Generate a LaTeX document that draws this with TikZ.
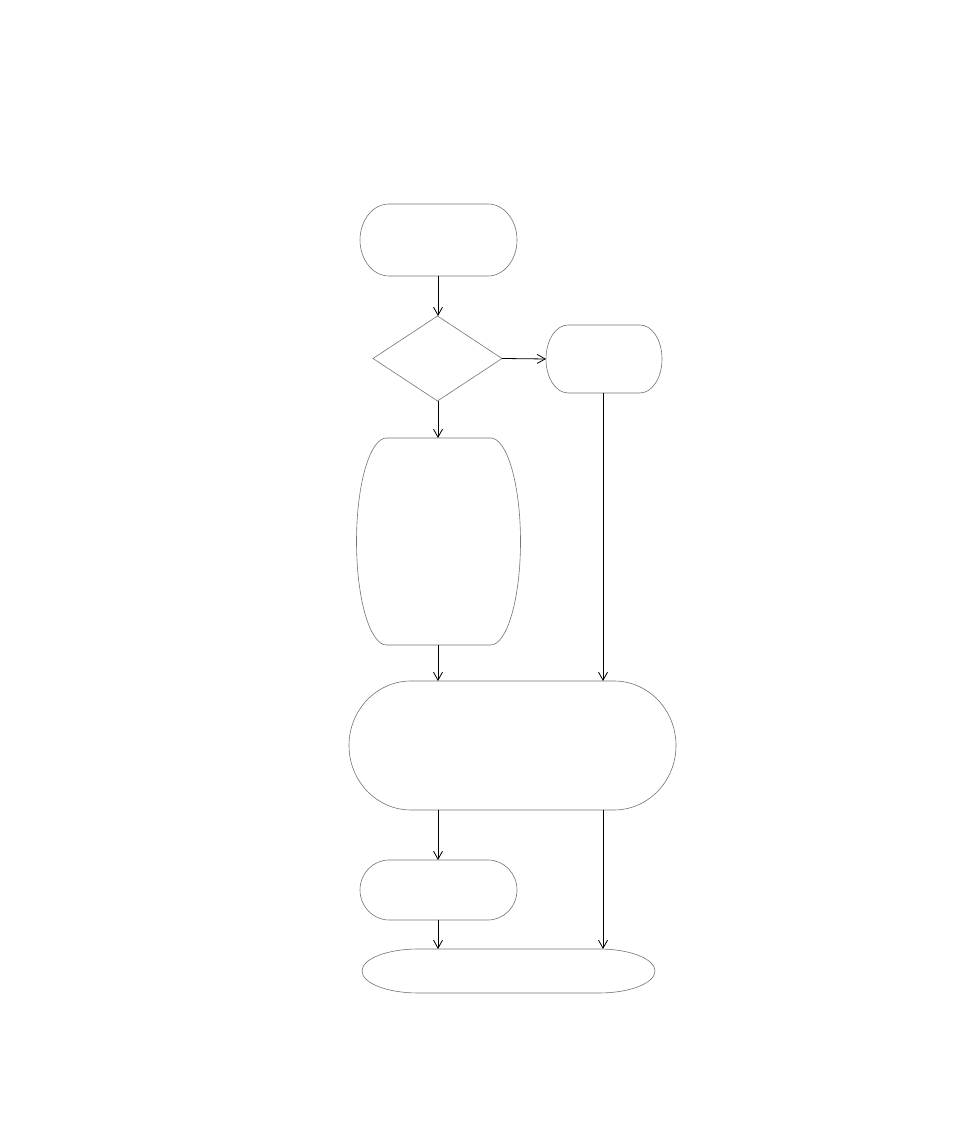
\documentclass[tikz,border=0pt]{standalone}
\usetikzlibrary{shapes.geometric,arrows.meta}
\tikzset{
  outline/.style={draw=black!55, line width=0.6pt},
  anchorbox/.style={draw=none, inner sep=0pt, outer sep=0pt},
  conn/.style={draw=black, line width=0.8pt, -{Straight Barb[length=8pt,width=9pt]}}
}
% name, cx, cy (from top), width, height, end x-radius, end y-radius
\newcommand\mycapsule[7]{%
  \node[anchorbox, minimum width=#4pt, minimum height=#5pt] (#1) at (#2,1145-#3) {};
  \draw[outline] ([xshift=#6pt]#1.north west) -- ([xshift=-#6pt]#1.north east)
    arc[start angle=90, end angle=-90, x radius=#6pt, y radius=#7pt]
    -- ([xshift=#6pt]#1.south west)
    arc[start angle=270, end angle=90, x radius=#6pt, y radius=#7pt] -- cycle;
}
\begin{document}
\begin{tikzpicture}[x=1pt,y=1pt]
\useasboundingbox (0,0) rectangle (954,1145);
\mycapsule{b1}{438.5}{240}{157}{72}{29}{36}
\node[outline, diamond, inner sep=0pt, outer sep=0pt, minimum width=129pt, minimum height=85pt] (d) at (437.5,1145-358.5) {};
\mycapsule{b2}{604}{359}{116}{68}{22}{34}
\mycapsule{b3}{438.5}{541.5}{164}{207}{30}{103.5}
\mycapsule{b4}{512.5}{745.5}{327}{129}{62}{64.5}
\mycapsule{b5}{438.5}{890}{157}{60}{29}{30}
\mycapsule{b6}{508.5}{971}{293}{44}{56}{22}
\coordinate (rx) at (603,0);
\coordinate (lx) at (438,0);
\draw[conn] (b1.south -| lx) -- (d.north -| lx);
\draw[conn] (d.east) -- (b2.west);
\draw[conn] (d.south -| lx) -- (b3.north -| lx);
\draw[conn] (b3.south -| lx) -- (b4.north -| lx);
\draw[conn] (b2.south -| rx) -- (b4.north -| rx);
\draw[conn] (b4.south -| lx) -- (b5.north -| lx);
\draw[conn] (b4.south -| rx) -- (b6.north -| rx);
\draw[conn] (b5.south -| lx) -- (b6.north -| lx);
\end{tikzpicture}
\end{document}
